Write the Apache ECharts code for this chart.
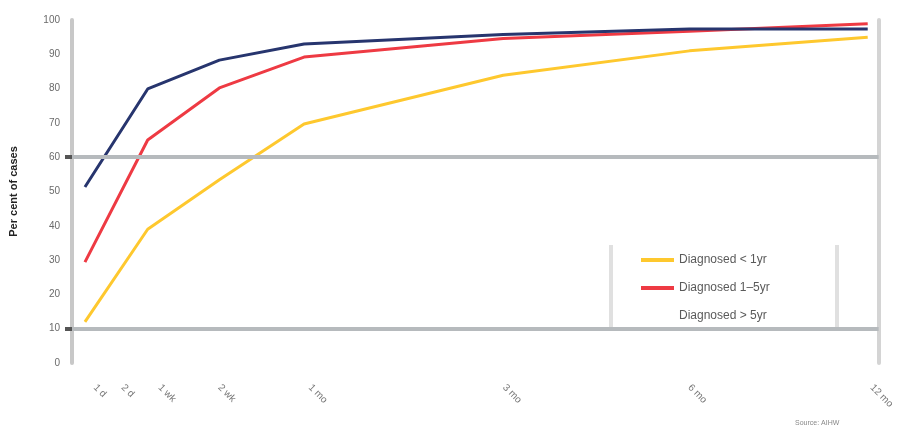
<!DOCTYPE html>
<html>
<head>
<meta charset="utf-8">
<script src="https://cdn.jsdelivr.net/npm/echarts@6/dist/echarts.min.js"></script>
<style>
  html, body { margin: 0; padding: 0; background: #ffffff; }
  #chart { width: 897px; height: 429px; }
</style>
</head>
<body>
<div id="chart"></div>
<script>
// ---- data (x positions on the chart's horizontal scale) ----
var xPoints = [1.3, 7.6, 14.8, 23.3, 43.3, 62.0, 79.9];
var tickValues = [2.3, 5.1, 8.8, 14.8, 23.9, 43.4, 62.0, 80.3];
var tickLabels = ['1 d', '2 d', '1 wk', '2 wk', '1 mo', '3 mo', '6 mo', '12 mo'];

var seriesNames = ['Diagnosed < 1yr', 'Diagnosed 1–5yr', 'Diagnosed > 5yr'];
var yellowValues = [12.0, 39.0, 53.4, 69.7, 83.9, 91.0, 95.0];
var redValues    = [29.4, 65.0, 80.2, 89.2, 94.6, 96.7, 98.9];
var blueValues   = [51.3, 79.9, 88.3, 93.0, 95.8, 97.4, 97.4];

var refLines = [60, 10];
var yAxisName = 'Per cent of cases';
var sourceText = 'Source: AIHW';

function pairs(vals) {
  return xPoints.map(function (x, i) { return [x, vals[i]]; });
}

var chart = echarts.init(document.getElementById('chart'), null, { renderer: 'canvas' });

var option = {
  animation: false,
  backgroundColor: '#ffffff',
  textStyle: { fontFamily: 'Liberation Sans, Arial, sans-serif' },
  grid: { left: 71, right: 15, top: 20, bottom: 66, containLabel: false },
  xAxis: {
    type: 'value',
    min: 0,
    max: 81,
    axisLine: { show: false },
    axisTick: { show: false },
    splitLine: { show: false },
    axisLabel: {
      customValues: tickValues,
      rotate: -45,
      margin: 23,
      fontSize: 10,
      color: '#777777',
      formatter: function (v) {
        var best = 0, bd = Infinity;
        for (var i = 0; i < tickValues.length; i++) {
          var d = Math.abs(tickValues[i] - v);
          if (d < bd) { bd = d; best = i; }
        }
        return bd < 0.05 ? tickLabels[best] : '';
      }
    }
  },
  yAxis: [{
    type: 'value',
    min: 0,
    max: 100,
    interval: 10,
    name: yAxisName,
    nameLocation: 'middle',
    nameGap: 53,
    nameRotate: 90,
    nameTextStyle: { fontSize: 11, fontWeight: 'bold', color: '#222222' },
    axisLine: { show: true, lineStyle: { color: '#c8c8c8', width: 4 } },
    axisTick: { show: true, customValues: refLines, length: 7, lineStyle: { color: '#555555', width: 4 } },
    splitLine: { show: false },
    axisLabel: { fontSize: 10, color: '#6a6a6a', margin: 12 }
  }, {
    type: 'value',
    min: 0,
    max: 100,
    position: 'right',
    axisLine: { show: true, lineStyle: { color: '#d4d4d4', width: 4 } },
    axisTick: { show: false },
    axisLabel: { show: false },
    splitLine: { show: false }
  }],
  legend: {
    orient: 'vertical',
    left: 636,
    top: 249,
    itemWidth: 33,
    itemHeight: 4,
    itemGap: 16,
    textStyle: { fontSize: 12, color: '#5a5a5a' },
    data: [
      { name: seriesNames[0], icon: 'rect' },
      { name: seriesNames[1], icon: 'rect' },
      { name: seriesNames[2], icon: 'none' }
    ]
  },
  series: [{
    name: seriesNames[0],
    type: 'line',
    data: pairs(yellowValues),
    symbol: 'none',
    lineStyle: { color: '#fec82e', width: 3 },
    itemStyle: { color: '#fec82e' },
    markLine: {
      silent: true,
      symbol: 'none',
      label: { show: false },
      lineStyle: { color: '#b6babd', width: 4, type: 'solid' },
      data: refLines.map(function (v) { return { yAxis: v }; })
    },
    z: 2
  }, {
    name: seriesNames[1],
    type: 'line',
    data: pairs(redValues),
    symbol: 'none',
    lineStyle: { color: '#ee3a43', width: 3 },
    itemStyle: { color: '#ee3a43' },
    z: 3
  }, {
    name: seriesNames[2],
    type: 'line',
    data: pairs(blueValues),
    symbol: 'none',
    lineStyle: { color: '#27356e', width: 3 },
    itemStyle: { color: '#27356e' },
    z: 4
  }],
  graphic: [
    { type: 'line', shape: { x1: 611, y1: 245, x2: 611, y2: 328 }, style: { stroke: '#e0e0e0', lineWidth: 4 }, z: -1 },
    { type: 'line', shape: { x1: 837, y1: 245, x2: 837, y2: 328 }, style: { stroke: '#e0e0e0', lineWidth: 4 }, z: -1 },
    { type: 'text', left: 795, top: 420, style: { text: sourceText, fontSize: 7, fill: '#888888' } }
  ]
};

chart.setOption(option);
</script>
</body>
</html>
